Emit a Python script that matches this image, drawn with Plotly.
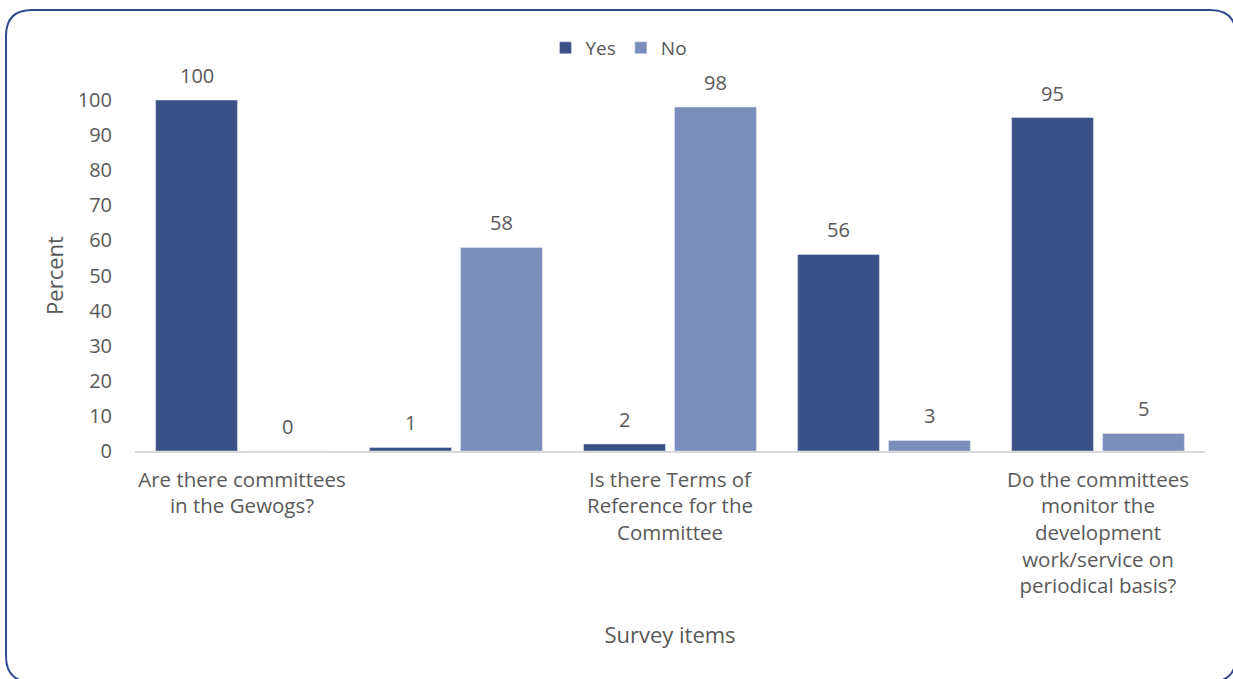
import plotly.graph_objects as go

categories = [
    "Are there committees<br>in the Gewogs?",
    "Survey item 2",
    "Is there Terms of<br>Reference for the<br>Committee",
    "Survey item 4",
    "Do the committees<br>monitor the<br>development<br>work/service on<br>periodical basis?",
]
shown_labels = [0, 2, 4]
yes_values = [100, 1, 2, 56, 95]
no_values = [0, 58, 98, 3, 5]
y_ticks = list(range(0, 101, 10))

YES_COLOR = "#3A5086"
NO_COLOR = "#7B8EBB"
TEXT = "#595959"
FONT = "Open Sans"

W, H = 1233, 679
L, R, T, B = 135, 28, 100, 228
BARGAP = 0.15

fig = go.Figure()
fig.add_trace(go.Bar(name="Yes", x=categories, y=yes_values, marker_color=YES_COLOR))
fig.add_trace(go.Bar(name="No", x=categories, y=no_values, marker_color=NO_COLOR))

# data labels above bars
off = (1 - BARGAP) / 4
for i, (yv, nv) in enumerate(zip(yes_values, no_values)):
    for dx, v in ((-off, yv), (off, nv)):
        fig.add_annotation(x=i + dx, y=v, xref="x", yref="y", text=str(v),
                           showarrow=False, yanchor="bottom", yshift=9,
                           font=dict(family=FONT, size=20, color=TEXT))

# rounded border
pw, ph = W - L - R, H - T - B
def px(xp): return (xp - L) / pw
def py(yp): return (H - B - yp) / ph
x0, x1, y0, y1, r = 6, 1236, 10, 682, 26
path = (f"M {px(x0+r)},{py(y0)} L {px(x1-r)},{py(y0)} Q {px(x1)},{py(y0)} {px(x1)},{py(y0+r)} "
        f"L {px(x1)},{py(y1-r)} Q {px(x1)},{py(y1)} {px(x1-r)},{py(y1)} "
        f"L {px(x0+r)},{py(y1)} Q {px(x0)},{py(y1)} {px(x0)},{py(y1-r)} "
        f"L {px(x0)},{py(y0+r)} Q {px(x0)},{py(y0)} {px(x0+r)},{py(y0)} Z")
fig.add_shape(type="path", path=path, xref="paper", yref="paper",
              line=dict(color="#2F4A8A", width=2), layer="above")

fig.update_layout(
    width=W, height=H,
    margin=dict(l=L, r=R, t=T, b=B, autoexpand=False),
    paper_bgcolor="white", plot_bgcolor="white",
    barmode="group", bargap=BARGAP, bargroupgap=0.1,
    font=dict(family=FONT, size=20, color=TEXT),
    showlegend=True,
    legend=dict(orientation="h", xref="container", yref="container",
                x=0.502, xanchor="center", y=1 - 48 / H, yanchor="middle",
                font=dict(size=19, color=TEXT), itemwidth=30, tracegroupgap=0),
    xaxis=dict(
        tickmode="array", tickvals=[categories[i] for i in shown_labels],
        ticktext=[categories[i] for i in shown_labels],
        showline=True, linecolor="#D9D9D9", linewidth=2, showgrid=False,
        ticks="", tickangle=0, automargin=False, ticklabelstandoff=9,
        tickfont=dict(size=20.5, color=TEXT),
        title=dict(text="Survey items", font=dict(size=22, color=TEXT), standoff=29),
    ),
    yaxis=dict(
        range=[0, 100], tickvals=y_ticks, showgrid=False, showline=False,
        zeroline=False, ticks="", ticklabelstandoff=22, automargin=False,
        tickfont=dict(size=20, color=TEXT),
        title=dict(text="Percent", font=dict(size=22, color=TEXT), standoff=7),
    ),
)
fig.update_traces(cliponaxis=False)

fig.write_html("out.html")
